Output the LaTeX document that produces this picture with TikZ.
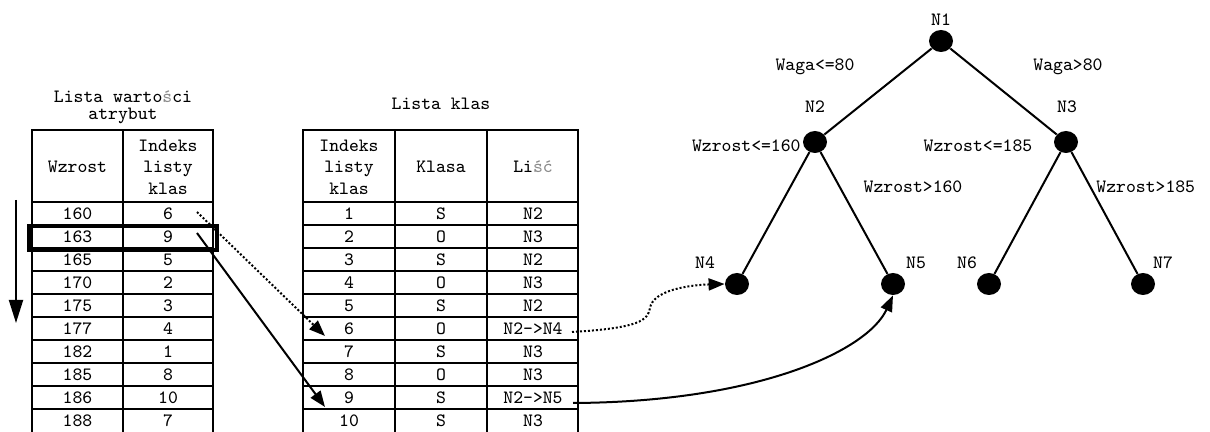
\documentclass[tikz,border=0pt]{standalone}
\usepackage{fontspec}
\usetikzlibrary{arrows.meta,shapes.geometric}
% thin grey glyphs for the Polish letters
\newcommand\plch[1]{\textcolor{black!45}{#1}}
\begin{document}
\begin{tikzpicture}[x=0.5pt,y=-0.5pt,
  every node/.style={font=\ttfamily\fontsize{9.4}{10.75}\selectfont, inner sep=0pt, align=center},
  gridline/.style={line width=1.2pt},
  hilite/.style={line width=1.8pt},
  leaf/.style={ellipse, fill=black, minimum width=12pt, minimum height=11pt},
  branch/.style={line width=1pt},
  tip/.style={-{Triangle[length=8pt,width=6pt]}},
  solidarrow/.style={tip, line width=1pt},
  dotarrow/.style={tip, line width=1pt, densely dotted}]
\useasboundingbox (0,0) rectangle (1210,432);

% ---- table: attribute values ----
\node (t1a) at (123,97) {Lista warto\plch{ś}ci};
\node (t1b) at (123,116) {atrybut};
\draw[gridline] (32,130) rectangle (213,433);
\draw[gridline] (123,130) -- (123,433);
\foreach \r in {0,...,9} \draw[gridline] (32,202+23*\r) -- (213,202+23*\r);
\node (h1) at (77.5,167) {Wzrost};
\node (h2) at (168,167) {Indeks\\listy\\klas};
\foreach \v/\i [count=\k] in {160/6,163/9,165/5,170/2,175/3,177/4,182/1,185/8,186/10,188/7}{
  \node (a\k) at (77.5,190.5+23*\k) {\v};
  \node (b\k) at (168,190.5+23*\k) {\i};
}
\draw[hilite] (29,226) rectangle (217,250);

% sort direction
\coordinate (sd1) at (16,200);
\coordinate (sd2) at (16,323);
\draw[line width=1pt,-{Triangle[length=11.5pt,width=7pt]}] (sd1) -- (sd2);

% ---- table: class list ----
\node (t2) at (441,104) {Lista klas};
\draw[gridline] (303,130) rectangle (578,433);
\draw[gridline] (395,130) -- (395,433);
\draw[gridline] (487,130) -- (487,433);
\foreach \r in {0,...,9} \draw[gridline] (303,202+23*\r) -- (578,202+23*\r);
\node (g1) at (349,167) {Indeks\\listy\\klas};
\node (g2) at (441,167) {Klasa};
\node (g3) at (533,167) {Li\plch{ść}};
\foreach \c/\l [count=\k] in {S/N2,O/N3,S/N2,O/N3,S/N2,O/N2->N4,S/N3,O/N3,S/N2->N5,S/N3}{
  \node (c\k) at (349,190.5+23*\k) {\k};
  \node (d\k) at (441,190.5+23*\k) {\c};
  \node (e\k) at (533,190.5+23*\k) {\l};
}

% ---- decision tree ----
\node[leaf] (N1) at (941,41) {};
\node[leaf] (N2) at (815,142) {};
\node[leaf] (N3) at (1066,142) {};
\node[leaf] (N4) at (737,284) {};
\node[leaf] (N5) at (893,284) {};
\node[leaf] (N6) at (989,284) {};
\node[leaf] (N7) at (1143,284) {};
\draw[branch] (N1) -- (N2);
\draw[branch] (N1) -- (N3);
\draw[branch] (N2) -- (N4);
\draw[branch] (N2) -- (N5);
\draw[branch] (N3) -- (N6);
\draw[branch] (N3) -- (N7);

\node (l1) at (941,20) {N1};
\node (l2) at (815,107) {N2};
\node (l3) at (1067,107) {N3};
\node (l4) at (705,263) {N4};
\node (l5) at (916,263) {N5};
\node (l6) at (967,263) {N6};
\node (l7) at (1163,263) {N7};
\node (w1) at (815,67) {Waga<=80};
\node (w2) at (1068,67) {Waga>80};
\node[anchor=east] (w3) at (801,146) {Wzrost<=160};
\node (w4) at (978,146) {Wzrost<=185};
\node (w5) at (913,187) {Wzrost>160};
\node[anchor=west] (w6) at (1096,187) {Wzrost>185};

% ---- pointers ----
\coordinate (p1) at (197,212);
\coordinate (q1) at (325,336);
\coordinate (p2) at (197,233);
\coordinate (q2) at (325,407);
\draw[dotarrow] (p1) -- (q1);
\draw[solidarrow] (p2) -- (q2);
\coordinate (r1) at (572,332);
\coordinate (r2) at (573,403);
\draw[dotarrow] (r1) .. controls (640,328) and (648,320) .. (650,308)
  .. controls (653,290) and (690,285) .. (N4.west);
\draw[solidarrow] (r2) .. controls (760,402) and (868,350) .. (N5.south);
\end{tikzpicture}
\end{document}
